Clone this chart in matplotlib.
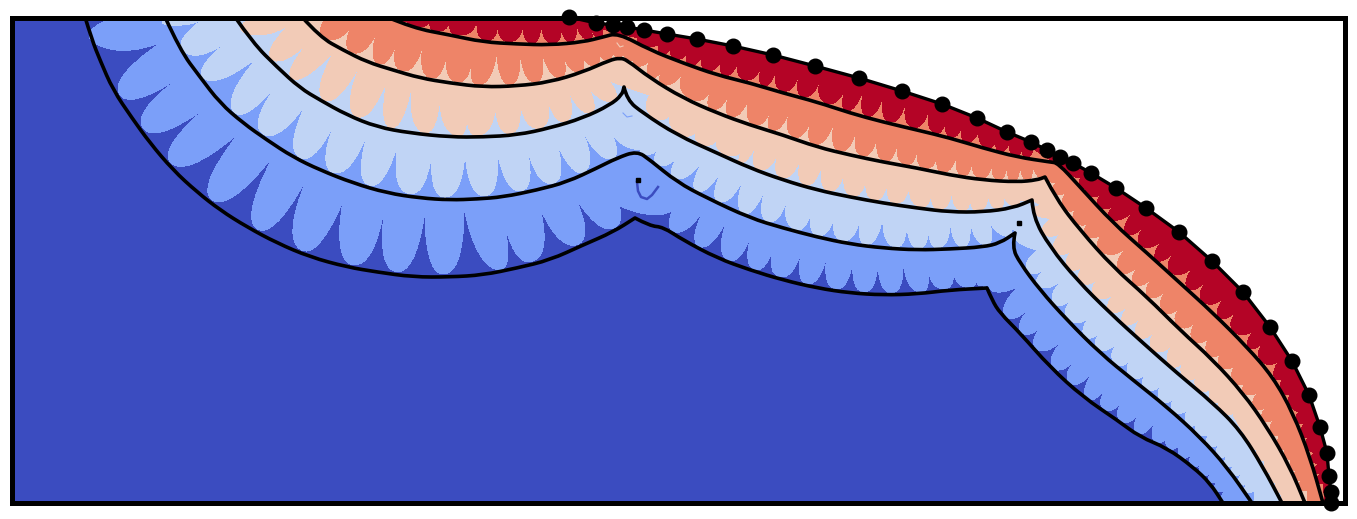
import numpy as np
import matplotlib
matplotlib.use('Agg')
import matplotlib.pyplot as plt
from matplotlib.path import Path
from matplotlib.patches import PathPatch

# all coordinates, x to the right, y downwards
shock_pts = [(569,17),(596,23),(613,25),(627,27),(644,30),(667,34),(697,39),(733,46),(773,55),(815,66),
             (859,78),(902,91),(942,104),(977,118),(1007,132),(1031,142),(1047,150),(1060,157),(1073,163),
             (1091,173),(1116,188),(1146,208),(1179,232),(1212,261),(1243,292),(1270,327),(1292,361),
             (1309,395),(1320,427),(1327,453),(1329,476),(1331,492),(1331,503)]

contour1 = [(85,17),(92,40),(100,60),(113,90),(132,118),(150,143),(173,170),(197,192),(220,210),(247,227),
            (277,243),(310,257),(347,267),(377,272),(413,277),(450,277),(483,275),(517,268),(550,260),
            (583,245),(613,232),(635,218),(650,226),(663,227),(683,240),(717,258),(750,270),(783,280),
            (817,288),(850,293),(883,295),(917,294),(950,290),(987,288),(992,300),(1000,313),(1020,333),
            (1050,367),(1083,397),(1117,420),(1140,437),(1167,448),(1193,467),(1210,483),(1223,503)]
contour2 = [(165,17),(180,50),(200,77),(220,103),(243,123),(267,140),(293,157),(320,170),(353,183),(387,193),
            (420,198),(450,200),(477,199),(503,197),(537,190),(567,182),(597,168),(617,158),(637,151),
            (650,160),(677,182),(707,198),(750,218),(783,228),(817,237),(850,244),(883,248),(917,250),
            (950,249),(983,247),(1000,243),(1015,233),(1012,247),(1020,263),(1040,290),(1067,320),(1100,353),
            (1133,380),(1167,407),(1200,437),(1227,467),(1252,503)]
contour3 = [(235,17),(253,43),(277,67),(300,88),(320,100),(347,115),(377,127),(410,133),(450,137),(483,137),
            (517,135),(550,128),(583,118),(610,105),(622,95),(624,87),(627,100),(643,113),(677,135),(717,153),
            (750,168),(783,180),(817,190),(850,197),(883,203),(917,208),(950,212),(983,212),(1013,208),
            (1032,200),(1033,217),(1050,247),(1077,280),(1110,313),(1143,343),(1177,373),(1213,403),
            (1240,430),(1263,467),(1282,503)]
contour4 = [(302,17),(320,37),(343,50),(367,62),(393,70),(420,78),(450,83),(483,87),(517,86),(550,82),(583,72),
            (610,60),(620,58),(627,60),(650,78),(683,98),(717,113),(750,125),(783,135),(817,147),(850,155),
            (883,162),(917,168),(950,175),(983,180),(1017,182),(1037,180),(1045,177),(1057,200),(1080,230),
            (1113,267),(1147,297),(1180,330),(1213,360),(1243,393),(1267,427),(1290,467),(1305,503)]
contour5 = [(387,17),(413,28),(450,35),(483,42),(517,44),(550,45),(583,42),(603,37),(618,33),(650,50),(683,63),
            (717,75),(750,83),(783,93),(817,102),(850,113),(883,122),(917,130),(950,138),(983,148),(1017,157),
            (1050,162),(1058,163),(1080,187),(1113,223),(1147,253),(1180,283),(1213,313),(1247,347),(1273,377),
            (1293,413),(1310,457),(1323,503)]

# cusps between the scallops of each band
cusps1 = [(112,18),(162,42),(183,75),(207,107),(239,133),(274,155),(308,176),(343,201),(385,205),(425,211),
          (464,208),(504,222),(540,208),(575,197),(605,178),(680,198),(705,208),(727,220),(752,233),(775,243),
          (802,250),(827,255),(853,260),(878,262),(903,262),(928,267),(953,268),(977,273),(1007,267),(1018,287),
          (1033,305),(1047,322),(1063,340),(1078,357),(1093,372),(1108,385),(1125,397),(1142,410),(1155,422),
          (1170,430),(1182,442),(1193,452),(1202,462),(1212,472),(1222,478),(1230,488),(1237,497)]
cusps2 = [(168,18),(202,20),(231,39),(258,57),(276,86),(306,104),(335,122),(368,132),(398,143),(432,153),(465,152),
          (497,151),(527,148),(557,144),(580,126),(607,123),(645,131),(663,143),(682,152),(702,162),(723,167),
          (747,172),(765,190),(788,197),(812,210),(835,213),(860,218),(883,213),(907,223),(928,225),(950,218),
          (970,222),(990,223),(1007,222),(1027,235),(1038,250),(1048,267),(1063,280),(1073,298),(1092,315),
          (1103,330),(1118,342),(1132,358),(1147,372),(1163,383),(1177,395),(1190,407),(1198,422),(1212,432),
          (1222,442),(1230,453),(1238,462),(1245,472),(1250,482),(1255,490)]
cusps3 = [(250,18),(290,24),(313,38),(335,50),(360,65),(387,80),(412,83),(440,98),(467,113),(495,103),(520,103),
          (547,98),(568,90),(588,87),(608,80),(650,95),(672,112),(697,130),(718,137),(743,148),(757,143),
          (780,148),(802,155),(823,162),(845,168),(867,175),(888,180),(910,182),(932,190),(952,190),(970,195),
          (988,193),(1003,195),(1018,197),(1033,193),(1045,205),(1053,218),(1063,232),(1075,248),(1085,265),
          (1100,277),(1118,290),(1132,302),(1145,313),(1158,328),(1175,342),(1185,360),(1198,375),(1212,387),
          (1220,400),(1233,413),(1248,438),(1258,450),(1267,460),(1272,472),(1277,482),(1280,492)]
cusps4 = [(325,18),(353,23),(377,32),(398,38),(423,45),(447,52),(472,58),(497,50),(520,52),(542,53),(562,52),(582,55),
          (597,50),(610,45),(623,45),(637,55),(653,57),(663,70),(683,72),(712,88),(730,92),(750,95),(772,105),
          (792,103),(813,115),(835,120),(857,127),(878,133),(898,140),(918,147),(938,153),(957,153),(973,158),
          (992,162),(1007,163),(1020,165),(1032,165),(1040,165),(1048,170),(1059,182),(1068,192),(1078,208),
          (1090,222),(1105,232),(1127,247),(1142,262),(1157,273),(1170,287),(1183,305),(1198,320),(1212,335),
          (1225,350),(1238,363),(1250,380),(1262,390),(1270,405),(1278,417),(1283,433),(1288,448),(1293,458),
          (1298,470),(1303,480),(1307,490)]
cusps5 = [(395,18),(408,20),(430,20),(450,20),(477,20),(498,22),(523,22),(541,23),(561,23),(576,23),(591,28),(602,28),
          (638,37),(660,42),(672,45),(688,50),(703,53),(722,58),(739,57),(763,60),(778,65),(800,72),(822,73),
          (847,83),(865,85),(885,90),(907,97),(930,105),(947,117),(963,123),(980,127),(997,137),(1010,140),
          (1023,147),(1033,148),(1065,167),(1082,177),(1088,187),(1103,193),(1117,203),(1135,210),(1147,223),
          (1167,235),(1178,248),(1198,262),(1210,277),(1230,292),(1240,308),(1260,325),(1267,340),(1283,358),
          (1287,375),(1293,393),(1303,410),(1307,423),(1310,437),(1317,452),(1322,463),(1323,473),(1323,483)]

contours = [contour1, contour2, contour3, contour4, contour5]
cusps = [cusps1, cusps2, cusps3, cusps4, cusps5]
band_colors = ['#7b9ff9', '#c0d4f5', '#f2cbb7', '#ee8468', '#b40426']
base_color = '#3b4cc0'

# small leftovers near the kink
arc_dark = [(637,182),(638,191),(641,197),(647,199),(652,195),(658,187)]
arc_light = [(623,113),(627,117),(632,116)]
arc_peach = [(617,43),(620,47),(623,46)]
stray_marks = [(638,180),(1019,223)]


def nearest_on_line(p, line):
    # closest point of a polyline to p
    best = None
    best_d = 1e12
    line = np.array(line, dtype=float)
    for a, b in zip(line[:-1], line[1:]):
        t = np.clip(np.dot(p - a, b - a) / np.dot(b - a, b - a), 0, 1)
        q = a + t * (b - a)
        d = np.sum((p - q) ** 2)
        if d < best_d:
            best_d = d
            best = q
    return best


def band_path(tips, line, boundary):
    verts = [tips[0]]
    codes = [Path.MOVETO]
    tips = np.array(tips, dtype=float)
    for a, c in zip(tips[:-1], tips[1:]):
        m = (a + c) / 2
        b = nearest_on_line(m, line)
        gap = 0.08 * np.linalg.norm(c - a)
        axis = b - m
        length = np.linalg.norm(axis)
        if length > gap + 1:
            b = b - axis / length * gap
        axis = b - m
        verts += [a + 0.8 * axis, b + 0.5 * (a - m), b,
                  b + 0.5 * (c - m), c + 0.8 * axis, c]
        codes += [Path.CURVE4] * 6
    verts.append((line[-1][0] + 2, 503))
    codes.append(Path.LINETO)
    for p in boundary[::-1]:
        verts.append(p)
        codes.append(Path.LINETO)
    verts.append(tips[0])
    codes.append(Path.CLOSEPOLY)
    return Path(verts, codes)


def smooth_path(line):
    # round the polyline off, sharp kinks stay sharp
    pts = np.array(line, dtype=float)
    verts = [pts[0]]
    codes = [Path.MOVETO]
    for i in range(1, len(pts) - 1):
        u = pts[i] - pts[i - 1]
        v = pts[i + 1] - pts[i]
        cosang = np.dot(u, v) / (np.linalg.norm(u) * np.linalg.norm(v))
        if cosang < 0.5:
            verts.append(pts[i])
            codes.append(Path.LINETO)
        else:
            verts += [pts[i], (pts[i] + pts[i + 1]) / 2]
            codes += [Path.CURVE3, Path.CURVE3]
    verts.append(pts[-1])
    codes.append(Path.LINETO)
    return Path(verts, codes)


fig = plt.figure(figsize=(13.57, 5.19), dpi=100)
ax = fig.add_axes([12 / 1357, 1 - 503 / 519, (1345 - 12) / 1357, (503 - 17.5) / 519])
ax.set_xlim(12, 1345)
ax.set_ylim(503, 17.5)
ax.set_xticks([])
ax.set_yticks([])
for s in ax.spines.values():
    s.set_linewidth(3.6)
    s.set_zorder(8)

shock_x, shock_y = zip(*shock_pts)
ax.fill([12] + list(shock_x) + [12], [17] + list(shock_y) + [503], color=base_color, lw=0, antialiased=False)

for tips, line, col, z in zip(cusps, contours, band_colors, range(1, 6)):
    ax.add_patch(PathPatch(band_path(tips, line, shock_pts), facecolor=col, edgecolor='none',
                           antialiased=False, zorder=z))

ax.plot(*zip(*arc_dark), color=base_color, lw=1.8, zorder=6)
ax.plot(*zip(*arc_light), color=band_colors[0], lw=0.8, zorder=6)
ax.plot(*zip(*arc_peach), color=band_colors[2], lw=0.8, zorder=6)

for line in contours:
    ax.add_patch(PathPatch(smooth_path(line), facecolor='none', edgecolor='black', lw=2.6,
                           joinstyle='round', zorder=7))

ax.plot(*zip(*stray_marks), ls='none', marker='s', ms=2.6, color='black', zorder=7)
ax.plot(shock_x, shock_y, color='black', lw=2.4, zorder=9, clip_on=False)
ax.plot(shock_x, shock_y, ls='none', marker='o', ms=10.5, color='black', zorder=10, clip_on=False)

fig.savefig('out.png', dpi=100)
